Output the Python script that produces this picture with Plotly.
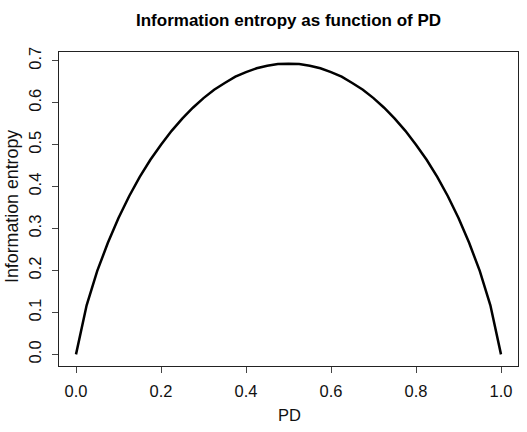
import plotly.graph_objects as go

# Probability of default (PD) grid and information entropy
pd_values = [0.0, 0.025, 0.05, 0.075, 0.1, 0.125, 0.15, 0.175, 0.2, 0.225, 0.25,
             0.275, 0.3, 0.325, 0.35, 0.375, 0.4, 0.425, 0.45, 0.475, 0.5,
             0.525, 0.55, 0.575, 0.6, 0.625, 0.65, 0.675, 0.7, 0.725, 0.75,
             0.775, 0.8, 0.825, 0.85, 0.875, 0.9, 0.925, 0.95, 0.975, 1.0]
entropy_values = [0.0, 0.117, 0.199, 0.266, 0.325, 0.377, 0.423, 0.464, 0.500, 0.533, 0.562,
                  0.588, 0.611, 0.631, 0.647, 0.662, 0.673, 0.682, 0.688, 0.692, 0.693,
                  0.692, 0.688, 0.682, 0.673, 0.662, 0.647, 0.631, 0.611, 0.588, 0.562,
                  0.533, 0.500, 0.464, 0.423, 0.377, 0.325, 0.266, 0.199, 0.117, 0.0]

x_ticks = [0.0, 0.2, 0.4, 0.6, 0.8, 1.0]
x_tick_labels = ["0.0", "0.2", "0.4", "0.6", "0.8", "1.0"]
y_ticks = [0.0, 0.1, 0.2, 0.3, 0.4, 0.5, 0.6, 0.7]
y_tick_labels = ["0.0", "0.1", "0.2", "0.3", "0.4", "0.5", "0.6", "0.7"]

title_text = "Information entropy as function of PD"
x_title = "PD"
y_title = "Information entropy"

FONT = "Liberation Sans, Arial, sans-serif"

fig = go.Figure()
fig.add_trace(go.Scatter(x=pd_values, y=entropy_values, mode="lines",
                         line=dict(color="black", width=2.5), showlegend=False,
                         hoverinfo="skip"))

axis_common = dict(showgrid=False, zeroline=False, showline=True, mirror=True,
                   linecolor="#222222", linewidth=1, ticks="outside", ticklen=6,
                   tickcolor="#444444", tickwidth=1,
                   tickfont=dict(family=FONT, size=16.5, color="#111111"))

W, H = 527, 432
L, R, T, B = 59, 9, 52, 66
plot_w = W - L - R
plot_h = H - T - B

fig.update_layout(
    width=W, height=H,
    margin=dict(l=L, r=R, t=T, b=B),
    plot_bgcolor="white", paper_bgcolor="white",
    xaxis=dict(range=[-0.04, 1.04], tickvals=x_ticks, ticktext=x_tick_labels,
               ticklabelstandoff=4, **axis_common),
    yaxis=dict(range=[-0.0277, 0.7209], tickvals=y_ticks, ticktext=y_tick_labels,
               tickangle=-90, ticklabelstandoff=4, **axis_common),
    annotations=[
        dict(text="<b>" + title_text + "</b>",
             x=(288.5 - L) / plot_w, y=1 + (T - 21) / plot_h,
             xref="paper", yref="paper",
             showarrow=False, font=dict(family=FONT, size=17, color="black"),
             xanchor="center", yanchor="middle"),
        dict(text=x_title,
             x=(289 - L) / plot_w, y=-(415 - (T + plot_h)) / plot_h,
             xref="paper", yref="paper",
             showarrow=False, font=dict(family=FONT, size=16.5, color="#111111"),
             xanchor="center", yanchor="middle"),
        dict(text=y_title,
             x=-(L - 12) / plot_w, y=1 - (207 - T) / plot_h,
             xref="paper", yref="paper",
             showarrow=False, textangle=-90,
             font=dict(family=FONT, size=17.8, color="#111111"),
             xanchor="center", yanchor="middle"),
    ],
)

fig.write_html("out.html")
